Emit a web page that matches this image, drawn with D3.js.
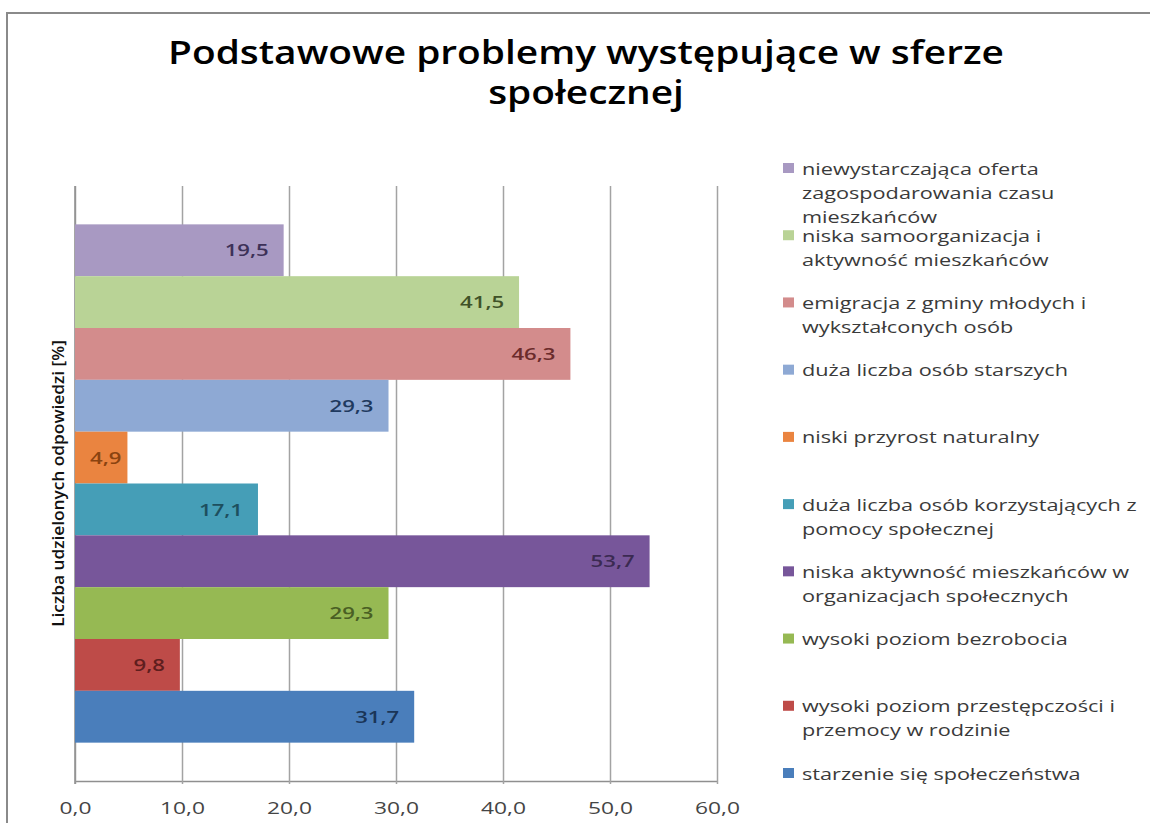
<!DOCTYPE html>
<html>
<head>
<meta charset="utf-8">
<script src="https://cdn.jsdelivr.net/npm/d3@7"></script>
<style>
  html, body { margin: 0; padding: 0; background: #fff; overflow: hidden; }
  svg { display: block; font-family: "Open Sans", sans-serif; }
</style>
</head>
<body>
<svg id="chart" width="1150" height="823"></svg>
<script>
// ---- chart content ----
const titleLines = ["Podstawowe problemy występujące w sferze", "społecznej"];
const yAxisTitle = "Liczba udzielonych odpowiedzi [%]";

// categories listed from the top bar down ("\n" marks a legend line break)
const categories = [
  "niewystarczająca oferta\nzagospodarowania czasu\nmieszkańców",
  "niska samoorganizacja i\naktywność mieszkańców",
  "emigracja z gminy młodych i\nwykształconych osób",
  "duża liczba osób starszych",
  "niski przyrost naturalny",
  "duża liczba osób korzystających z\npomocy społecznej",
  "niska aktywność mieszkańców w\norganizacjach społecznych",
  "wysoki poziom bezrobocia",
  "wysoki poziom przestępczości i\nprzemocy w rodzinie",
  "starzenie się społeczeństwa"
];
const values = [19.5, 41.5, 46.3, 29.3, 4.9, 17.1, 53.7, 29.3, 9.8, 31.7];
const xTicks = [0, 10, 20, 30, 40, 50, 60];

const barColors = ["#A899C2", "#B9D396", "#D38C8C", "#8EA9D4", "#EA8440",
                   "#459EB7", "#77569A", "#96B953", "#BE4B48", "#4A7EBB"];
const labelColors = ["#3d3158", "#3f5228", "#6b2b2b", "#1f3a5f", "#8a4310",
                     "#1d4f5e", "#3b2a52", "#4a5f24", "#5e1e1e", "#1a3557"];

// ---- layout ----
const W = 1150, H = 823;
const plot = { left: 75, right: 717, top: 186, bottom: 781 };
const legend = { x: 783, textX: 802, top: 168, bottom: 773, lineGap: 24 };

const svg = d3.select("#chart");
const fmt = v => d3.format(".1f")(v).replace(".", ",");

// outer chart frame (right and bottom edges run past the page)
svg.append("rect")
  .attr("x", 7).attr("y", 13).attr("width", W + 40).attr("height", H + 40)
  .attr("fill", "#fff").attr("stroke", "#8a8a8a").attr("stroke-width", 2);

// widen a text node's glyphs so it spans `span` pixels; returns factor
function widthFactor(node, span) {
  return span / node.getComputedTextLength();
}

// ---- title ----
const title = svg.append("g").attr("class", "title");
const titleNodes = titleLines.map(t =>
  title.append("text")
    .attr("text-anchor", "middle")
    .attr("font-size", 32).attr("font-weight", 600).attr("fill", "#000")
    .text(t)
);
const titleK = widthFactor(titleNodes[0].node(), 836);
titleNodes.forEach((n, i) =>
  n.attr("transform", `translate(586,${64 + i * 40}) scale(${titleK},1)`));

// ---- scales ----
const x = d3.scaleLinear().domain([0, 60]).range([plot.left, plot.right]);
const y = d3.scaleBand().domain(categories)
  .range([plot.top, plot.bottom]).paddingInner(0).paddingOuter(0.74);

// ---- gridlines and x axis ----
const xAxis = svg.append("g")
  .attr("transform", `translate(0,${plot.bottom})`)
  .call(d3.axisBottom(x).tickValues(xTicks).tickFormat(fmt)
    .tickSize(-(plot.bottom - plot.top)).tickSizeOuter(0));
xAxis.select(".domain").attr("stroke", "#8f8f8f").attr("stroke-width", 1.5);
xAxis.selectAll(".tick line")
  .attr("y1", 3).attr("stroke", "#a3a3a3").attr("stroke-width", 1.5);
xAxis.selectAll(".tick text")
  .attr("y", 33).attr("dy", 0)
  .attr("font-size", 16.5).attr("font-family", "Open Sans, sans-serif")
  .attr("fill", "#454545");
const tickK = widthFactor(xAxis.selectAll(".tick text").nodes()[1], 45);
xAxis.selectAll(".tick text").attr("transform", `scale(${tickK},1)`);

// vertical (category) axis line
svg.append("line")
  .attr("x1", plot.left).attr("x2", plot.left)
  .attr("y1", plot.top).attr("y2", plot.bottom + 3)
  .attr("stroke", "#8f8f8f").attr("stroke-width", 1.5);

// ---- bars ----
svg.append("g").selectAll("rect")
  .data(categories)
  .join("rect")
  .attr("x", x(0))
  .attr("y", d => y(d))
  .attr("width", (d, i) => x(values[i]) - x(0))
  .attr("height", y.bandwidth())
  .attr("fill", (d, i) => barColors[i]);

// ---- value labels (inside end) ----
const labels = svg.append("g").selectAll("text")
  .data(categories)
  .join("text")
  .attr("text-anchor", "end")
  .attr("dominant-baseline", "central")
  .attr("font-size", 16).attr("font-weight", 600)
  .attr("fill", (d, i) => labelColors[i])
  .text((d, i) => fmt(values[i]));
const labelK = widthFactor(labels.nodes()[1], 44);
labels.attr("transform", function (d, i) {
  const w = this.getComputedTextLength() * labelK;
  const end = Math.max(x(values[i]) - 15, x(0) + 15 + w);
  return `translate(${end},${y(d) + y.bandwidth() / 2}) scale(${labelK},1)`;
});

// ---- y axis title ----
const yTitle = svg.append("text")
  .attr("text-anchor", "middle")
  .attr("dominant-baseline", "central")
  .attr("font-size", 17).attr("font-weight", 600).attr("fill", "#111")
  .text(yAxisTitle);
const yTitleK = widthFactor(yTitle.node(), 287);
yTitle.attr("transform", `translate(58,${(plot.top + plot.bottom) / 2}) rotate(-90) scale(${yTitleK},1)`);

// ---- legend ----
const slot = d3.scalePoint().domain(categories).range([legend.top, legend.bottom]);
const items = svg.append("g").selectAll("g")
  .data(categories)
  .join("g")
  .attr("transform", d => `translate(0,${slot(d)})`);
items.append("rect")
  .attr("x", legend.x).attr("y", -5).attr("width", 11).attr("height", 10)
  .attr("fill", (d, i) => barColors[i]);
const legendText = items.selectAll("text")
  .data(d => d.split("\n"))
  .join("text")
  .attr("dominant-baseline", "central")
  .attr("font-size", 17).attr("fill", "#3a3a3a")
  .text(d => d);
const legendK = widthFactor(legendText.nodes()[0], 237);
legendText.attr("transform", (d, k) =>
  `translate(${legend.textX},${k * legend.lineGap}) scale(${legendK},1)`);
</script>
</body>
</html>
